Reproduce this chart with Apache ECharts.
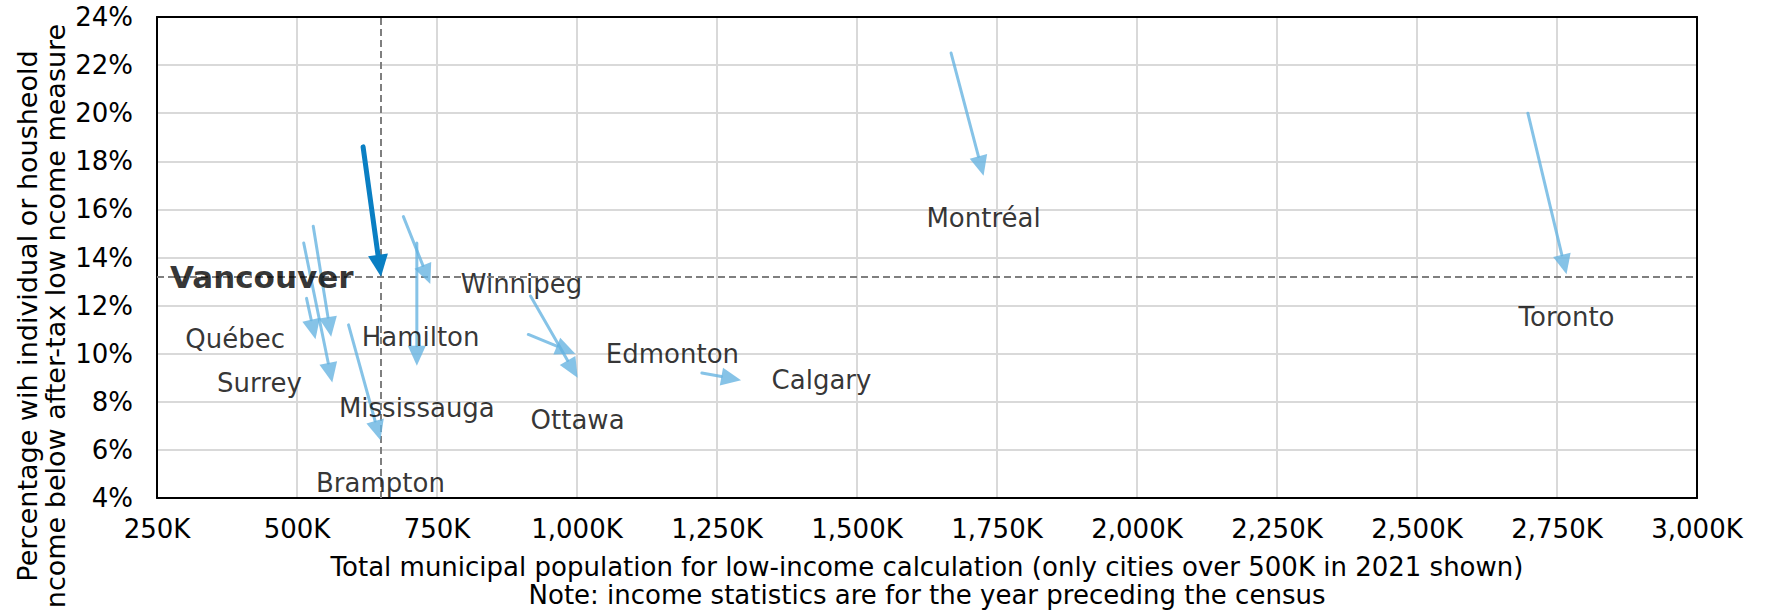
<!DOCTYPE html>
<html><head><meta charset="utf-8">
<script src="https://cdn.jsdelivr.net/npm/echarts@6/dist/echarts.min.js"></script>
<style>html,body{margin:0;padding:0;background:#fff}#c{width:1771px;height:611px}</style>
</head><body><div id="c"></div>
<script>
// ---- data (population in thousands, share below LIM-AT in %) ----
const cities  = ['Toronto','Montréal','Calgary','Ottawa','Edmonton','Winnipeg','Mississauga','Vancouver','Brampton','Hamilton','Surrey','Québec'];
const pop2016 = [2698, 1668, 1223, 917, 913, 690, 714, 618, 592, 529, 512, 517];
const lim2016 = [20.0, 22.5, 9.2, 12.4, 10.8, 15.7, 14.6, 18.6, 11.2, 15.3, 14.6, 12.3];
const pop2021 = [2767, 1726, 1293, 1001, 997, 738, 714, 650, 649, 561, 563, 533];
const lim2021 = [13.3, 17.4, 8.9, 9.0, 10.0, 12.9, 9.5, 13.2, 6.4, 10.7, 8.8, 10.6];
const highlight = 'Vancouver';
const xTitle = 'Total municipal population for low-income calculation (only cities over 500K in 2021 shown)\nNote: income statistics are for the year preceding the census';
const yTitle = 'Percentage wih individual or housheold\nncome below after-tax low ncome measure';

// ---- layout / style (not data) ----
const FONT = 'DejaVu Sans';
const labelSide = {Toronto:'bottom','Montréal':'bottom',Calgary:'right',Ottawa:'bottom',Edmonton:'right',Winnipeg:'right',Mississauga:'bottom',Vancouver:'left',Brampton:'bottom',Hamilton:'right',Surrey:'left','Québec':'left'};

const arrowsOther = [], arrowsHi = [], ends = [];
cities.forEach((c, i) => {
  const row = [pop2016[i], lim2016[i], pop2021[i], lim2021[i], c];
  (c === highlight ? arrowsHi : arrowsOther).push(row);
  const hi = c === highlight;
  ends.push({
    name: c, value: [pop2021[i], lim2021[i]],
    label: {
      position: labelSide[c],
      distance: hi ? 27 : (labelSide[c] === 'bottom' ? 29 : 30),
      fontSize: hi ? 31 : 26, fontWeight: hi ? 'bold' : 'normal', color: '#000'
    }
  });
});
const hiIdx = cities.indexOf(highlight);

function arrowRenderer(color, lw, hl, hw) {
  return function (params, api) {
    const p0 = api.coord([api.value(0), api.value(1)]);
    const p1 = api.coord([api.value(2), api.value(3)]);
    const dx = p1[0] - p0[0], dy = p1[1] - p0[1];
    const L = Math.hypot(dx, dy) || 1;
    const ux = dx / L, uy = dy / L, nx = -uy, ny = ux;
    const bx = p1[0] - ux * hl, by = p1[1] - uy * hl;
    return {
      type: 'group',
      children: [
        {type: 'line', shape: {x1: p0[0], y1: p0[1], x2: bx, y2: by},
         style: {stroke: color, lineWidth: lw, lineCap: 'round'}},
        {type: 'polygon', shape: {points: [[p1[0], p1[1]], [bx + nx * hw, by + ny * hw], [bx - nx * hw, by - ny * hw]]},
         style: {fill: color}}
      ]
    };
  };
}

const frameAxis = {
  show: true, axisLine: {show: true, onZero: false, lineStyle: {color: '#000', width: 2}},
  axisTick: {show: false}, axisLabel: {show: false}, splitLine: {show: false}
};

const chart = echarts.init(document.getElementById('c'), null, {renderer: 'svg'});
chart.setOption({
  animation: false,
  backgroundColor: '#fff',
  textStyle: {fontFamily: FONT},
  grid: {left: 157, right: 74, top: 17, bottom: 113, show: false, containLabel: false, outerBoundsMode: 'none'},
  xAxis: [{
    type: 'value', min: 250, max: 3000, interval: 250,
    axisLine: {show: true, onZero: false, lineStyle: {color: '#000', width: 2}},
    axisTick: {show: false},
    splitLine: {show: true, lineStyle: {color: '#d9d9d9', width: 2}},
    axisLabel: {fontSize: 26, color: '#000', margin: 18, fontFamily: FONT,
      formatter: v => v.toLocaleString('en-US') + 'K'},
    name: xTitle, nameLocation: 'middle', nameGap: 55,
    nameTextStyle: {fontSize: 26, lineHeight: 28, color: '#000', fontFamily: FONT}
  }, Object.assign({type: 'value', position: 'top', min: 250, max: 3000, interval: 250}, frameAxis)],
  yAxis: [{
    type: 'value', min: 4, max: 24, interval: 2,
    axisLine: {show: true, onZero: false, lineStyle: {color: '#000', width: 2}},
    axisTick: {show: false},
    splitLine: {show: true, lineStyle: {color: '#d9d9d9', width: 2}},
    axisLabel: {fontSize: 26, color: '#000', margin: 24, fontFamily: FONT, formatter: '{value}%'}
  }, Object.assign({type: 'value', position: 'right', min: 4, max: 24, interval: 2}, frameAxis)],
  graphic: [{
    type: 'text', x: 41, y: 316, rotation: Math.PI / 2,
    style: {text: yTitle, textAlign: 'center', textVerticalAlign: 'middle',
      fontSize: 27, lineHeight: 28, fontFamily: FONT, fill: '#000'}
  }],
  series: [
    {
      type: 'custom', name: 'others', z: 3,
      renderItem: arrowRenderer('rgba(100,178,224,0.78)', 3, 20, 9),
      encode: {x: [0, 2], y: [1, 3]},
      data: arrowsOther,
      markLine: {
        silent: true, symbol: 'none', z: 2,
        lineStyle: {color: '#7f7f7f', type: [7, 4], width: 2},
        label: {show: false},
        data: [{xAxis: pop2021[hiIdx]}, {yAxis: lim2021[hiIdx]}]
      }
    },
    {
      type: 'custom', name: highlight, z: 4,
      renderItem: arrowRenderer('#0a7fc3', 5, 22, 10),
      encode: {x: [0, 2], y: [1, 3]},
      data: arrowsHi
    },
    {
      type: 'scatter', name: 'labels', z: 5,
      symbol: 'circle', symbolSize: 1, itemStyle: {color: 'rgba(0,0,0,0)'},
      label: {show: true, formatter: '{b}', fontFamily: FONT},
      data: ends
    }
  ]
});
</script></body></html>
